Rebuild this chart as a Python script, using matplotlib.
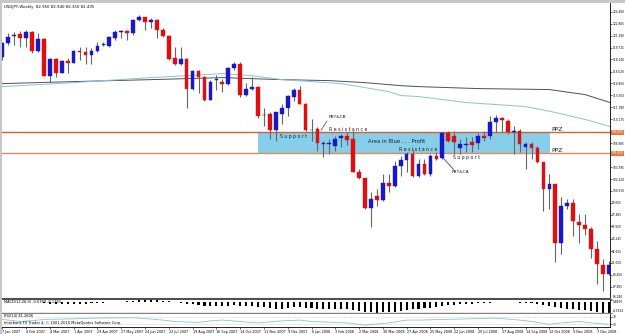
import numpy as np
import matplotlib.pyplot as plt
from matplotlib.patches import Rectangle

# weekly USDJPY candles, Jan 2007 - Dec 2008
opens = [118.50, 120.35, 121.28, 121.55, 121.02, 121.81, 119.29, 120.88, 115.98, 118.23,
         116.38, 117.97, 117.70, 119.29, 119.16, 118.76, 119.29, 120.02, 119.96, 121.02,
         121.81, 121.94, 121.68, 123.40, 123.80, 123.14, 123.40, 122.08, 121.28, 118.37,
         117.57, 118.23, 114.26, 116.64, 115.85, 112.80, 115.38, 115.19, 114.92, 117.04,
         117.57, 113.46, 114.26, 114.52, 110.68, 110.81, 108.69, 110.81, 111.74, 113.20,
         114.13, 112.27, 108.69, 108.83, 106.84, 106.84, 106.57, 107.63, 107.90, 107.50,
         103.13, 102.33, 98.36, 99.95, 99.42, 101.67, 101.27, 103.92, 104.72, 105.51,
         102.60, 104.19, 102.86, 105.25, 104.98, 108.30, 107.90, 106.31, 106.71, 107.10,
         106.97, 107.90, 107.90, 109.75, 110.28, 109.89, 108.43, 108.56, 106.44, 106.84,
         106.31, 104.45, 100.88, 101.54, 93.72, 98.62, 99.02, 96.50, 96.10, 95.58,
         92.93, 90.80, 89.61]
highs = [120.50, 121.68, 121.81, 121.94, 122.08, 121.90, 121.68, 121.00, 118.30, 118.37,
         118.00, 118.37, 119.40, 119.82, 119.82, 119.69, 120.49, 120.49, 121.28, 122.08,
         122.08, 122.08, 123.53, 124.06, 123.85, 123.67, 123.53, 122.34, 121.41, 119.82,
         119.82, 118.30, 116.70, 116.78, 115.90, 115.45, 116.10, 115.58, 117.10, 117.84,
         117.84, 115.05, 115.85, 114.65, 111.74, 111.08, 111.10, 112.14, 113.46, 114.39,
         114.65, 112.30, 110.15, 109.09, 107.27, 107.50, 107.90, 108.16, 108.43, 108.56,
         103.53, 102.40, 100.48, 100.88, 102.86, 102.86, 104.59, 105.25, 105.78, 106.18,
         104.85, 104.85, 105.60, 105.78, 108.40, 108.56, 108.56, 107.50, 107.77, 107.77,
         108.30, 108.56, 110.55, 110.68, 110.42, 110.15, 109.22, 108.83, 107.10, 107.10,
         106.57, 104.50, 102.86, 101.60, 99.82, 99.55, 99.55, 97.56, 97.56, 95.84,
         93.99, 91.60, 91.30]
lows = [118.10, 120.09, 120.09, 119.82, 119.82, 119.03, 119.16, 115.90, 115.19, 115.85,
        116.30, 116.38, 117.60, 118.10, 117.57, 117.57, 119.16, 119.96, 119.82, 120.75,
        121.02, 120.75, 121.41, 123.27, 122.08, 122.34, 121.02, 121.15, 118.10, 117.44,
        117.44, 111.74, 114.13, 113.73, 112.54, 112.70, 114.13, 113.86, 114.79, 116.78,
        113.20, 113.33, 114.13, 110.28, 109.22, 107.50, 107.27, 109.49, 110.55, 112.54,
        112.20, 108.60, 107.27, 105.91, 105.12, 105.51, 105.91, 106.44, 106.71, 103.10,
        102.20, 98.23, 95.84, 98.62, 99.29, 100.48, 101.14, 102.60, 103.13, 102.50,
        102.45, 102.70, 102.60, 104.70, 104.90, 107.10, 105.51, 105.51, 105.78, 105.78,
        106.18, 107.27, 107.50, 108.43, 108.43, 108.16, 105.51, 105.78, 103.53, 104.85,
        104.40, 97.96, 98.23, 91.20, 92.27, 98.23, 94.65, 93.72, 94.78, 91.73,
        88.29, 87.36, 89.50]
closes = [120.35, 121.15, 121.41, 121.02, 121.81, 119.29, 120.88, 115.98, 118.23, 116.38,
          117.97, 117.70, 119.29, 119.16, 118.76, 119.29, 119.96, 120.09, 121.15, 121.81,
          121.94, 121.68, 123.40, 123.80, 123.14, 123.40, 122.08, 121.28, 118.23, 117.57,
          118.23, 114.26, 116.64, 115.85, 112.80, 115.19, 115.45, 114.92, 117.04, 117.57,
          113.46, 114.26, 114.52, 110.55, 110.75, 108.69, 111.08, 111.74, 113.33, 114.13,
          112.27, 108.69, 108.76, 106.97, 106.90, 106.97, 107.50, 107.90, 107.37, 103.13,
          102.33, 98.36, 99.55, 99.42, 101.67, 101.27, 103.92, 104.72, 105.51, 102.60,
          104.19, 102.86, 105.25, 104.85, 108.30, 107.27, 107.10, 106.84, 106.78, 106.71,
          107.90, 107.63, 109.75, 110.28, 110.02, 108.43, 108.50, 106.84, 106.84, 106.31,
          104.45, 100.88, 101.54, 93.72, 98.62, 99.02, 96.63, 96.10, 95.58, 92.93,
          90.94, 89.61, 90.80]

# moving averages (bar index, price)
ma_slow_idx = [0, 12, 25, 37, 42, 47, 55, 61, 67, 70, 80, 92, 98, 102.2]
ma_slow = [114.92, 115.19, 115.45, 115.72, 115.58, 115.45, 115.32, 115.05, 114.65, 114.52,
           114.26, 114.13, 113.46, 112.40]
ma_fast_idx = [0, 12, 25, 37, 42, 47, 52, 57, 61, 65, 67, 70, 78, 88, 93, 98, 102.2]
ma_fast = [114.52, 115.05, 115.72, 116.25, 115.98, 115.45, 115.19, 114.92, 114.39, 113.86,
           113.33, 113.20, 112.40, 111.87, 111.08, 110.15, 109.22]

# MACD histogram, one value per bar
macd_hist = [0.2, 0.25, 0.3, 0.3, 0.3, 0.2, 0.05, -0.3, -0.5, -0.6,
             -0.7, -0.7, -0.6, -0.5, -0.5, -0.4, -0.3, -0.2, 0.0, 0.2,
             0.35, 0.45, 0.65, 0.8, 0.85, 0.85, 0.8, 0.7, 0.4, 0.1,
             -0.1, -0.6, -0.8, -1.1, -1.5, -1.6, -1.6, -1.6, -1.4, -1.2,
             -1.4, -1.4, -1.4, -1.7, -2.0, -2.4, -2.5, -2.5, -2.3, -2.0,
             -1.9, -2.1, -2.3, -2.5, -2.7, -2.8, -2.8, -2.8, -2.8, -3.1,
             -3.4, -3.8, -4.0, -4.1, -4.0, -4.0, -3.7, -3.4, -3.0, -2.8,
             -2.6, -2.4, -2.1, -1.9, -1.5, -1.2, -1.0, -0.8, -0.6, -0.5,
             -0.4, -0.3, -0.1, 0.1, 0.2, 0.2, 0.1, -0.1, -0.2, -0.3,
             -0.5, -1.0, -1.3, -2.0, -2.3, -2.5, -2.8, -3.0, -3.2, -3.5,
             -3.8, -4.1, -4.1]

# RSI line (bar index, value)
rsi_idx = [0, 1, 3, 5, 7, 11, 16, 22, 24, 27, 29, 33, 35, 37, 40, 43, 47, 50, 52, 56,
           58, 60, 61, 65, 68, 70, 74, 78, 83, 87, 89, 92, 94, 97, 99, 102]
rsi_vals = [55.5, 52.3, 44.5, 49.0, 55.5, 58.3, 63.0, 64.8, 60.2, 52.3, 44.5, 39.8, 47.7,
            52.3, 44.5, 37.1, 47.7, 52.3, 44.5, 39.8, 37.1, 29.2, 24.6, 37.1, 52.3, 52.3,
            55.5, 58.3, 62.9, 52.3, 44.5, 29.2, 37.1, 44.5, 37.1, 29.2]

price_ticks = [124.460, 122.865, 121.290, 119.715, 118.140, 116.520, 114.960, 113.350,
               111.780, 110.175, 106.985, 103.795, 102.220, 100.630,
               99.055, 97.465, 95.920, 94.245, 92.625, 91.050, 89.450, 87.855, 86.280]
date_labels = ['7 Jan 2007', '4 Feb 2007', '4 Mar 2007', '1 Apr 2007', '29 Apr 2007',
               '27 May 2007', '24 Jun 2007', '22 Jul 2007', '19 Aug 2007', '16 Sep 2007',
               '14 Oct 2007', '11 Nov 2007', '9 Dec 2007', '6 Jan 2008', '3 Feb 2008',
               '2 Mar 2008', '30 Mar 2008', '27 Apr 2008', '25 May 2008', '22 Jun 2008',
               '20 Jul 2008', '17 Aug 2008', '14 Sep 2008', '12 Oct 2008', '9 Nov 2008',
               '7 Dec 2008']

ppz_upper = 108.45
ppz_lower = 105.65

fig = plt.figure(figsize=(6.25, 3.34), dpi=100)
ax = fig.add_axes([0.0032, 0.1048, 0.9728, 0.8862])
ax_macd = fig.add_axes([0.0032, 0.0629, 0.9728, 0.0389])
ax_rsi = fig.add_axes([0.0032, 0.021, 0.9728, 0.0389])

# gray frame on the left and top
fig.add_artist(Rectangle((0, 0), 2 / 625, 1, transform=fig.transFigure, color='#c8c8c8', lw=0))
fig.add_artist(Rectangle((0, 1 - 3 / 334), 1, 3 / 334, transform=fig.transFigure, color='#c8c8c8', lw=0))

x = np.arange(len(opens))
o = np.array(opens)
c = np.array(closes)
up = c >= o
colors = np.where(up, '#1818c8', '#dc1010')

# PPZ box and lines
ax.add_patch(Rectangle((43.0, ppz_lower), 49.1, ppz_upper - ppz_lower, color='#87ceeb', lw=0, zorder=0))
ax.axhline(ppz_upper, color='#c8643c', lw=1.0, zorder=1)
ax.axhline(ppz_lower, color='#dc8c64', lw=1.0, zorder=1)

# moving averages
ax.plot(ma_slow_idx, ma_slow, color='#505050', lw=0.7, zorder=1)
ax.plot(ma_fast_idx, ma_fast, color='#8cc0e0', lw=0.7, zorder=1)

# candles
ax.vlines(x, lows, highs, color='#666666', lw=0.8, zorder=2)
ax.bar(x, np.maximum(np.abs(c - o), 0.12), bottom=np.minimum(o, c), width=0.62,
       color=colors, edgecolor=colors, lw=0.3, zorder=3)

# annotations
ax.text(54.8, 110.42, 'PBT&CB', fontsize=3.2, va='center', color='#202020')
ax.plot([54.6, 53.6], [109.95, 108.7], color='#a02020', lw=0.5)
ax.text(55.0, 108.83, 'R e s i s t a n c e', fontsize=3.3, va='center', color='#202020')
ax.text(46.7, 107.9, 'S u p p o r t', fontsize=3.3, va='center', color='#202020')
ax.text(61.5, 107.24, 'Area in Blue . . . Profit', fontsize=3.8, va='center', color='#202020')
ax.text(66.7, 106.18, 'R e s i s t a n c e', fontsize=3.3, va='center', color='#202020')
ax.text(75.8, 105.12, 'S u p p o r t', fontsize=3.3, va='center', color='#202020')
ax.text(75.6, 103.13, 'PBT&CA', fontsize=3.2, va='center', color='#202020')
ax.plot([74.2, 75.9], [104.95, 103.5], color='#202080', lw=0.5)
ax.text(92.3, 108.83, 'PPZ', fontsize=4.5, va='center', color='#202020')
ax.text(92.3, 106.05, 'PPZ', fontsize=4.5, va='center', color='#202020')
ax.text(0.3, 125.1, 'USDJPY,Weekly  82.950 82.940 82.350 82.435', fontsize=2.8, va='center')

ax.set_xlim(-0.05, 102.2)
ax.set_ylim(86.25, 125.65)
ax.set_xticks([])
ax.yaxis.tick_right()
ax.set_yticks(price_ticks)
ax.set_yticklabels([f'{v:.3f}' for v in price_ticks], fontsize=2.1)
ax.tick_params(axis='y', length=1.2, width=0.4, pad=0.5)
ax.get_yticklabels()[-1].set_va('bottom')
for side in ['left', 'top']:
    ax.spines[side].set_visible(False)
ax.spines['right'].set_linewidth(0.6)
ax.spines['bottom'].set_linewidth(1.5)
ax.spines['bottom'].set_color('#505050')

# orange price labels for the PPZ lines
for level in [ppz_upper, ppz_lower]:
    ax.text(1.002, level, f'{level:.3f}', transform=ax.get_yaxis_transform(), fontsize=2.1,
            color='white', va='center', ha='left',
            bbox=dict(boxstyle='square,pad=0.2', fc='#e87840', ec='none'))

# MACD panel
ax_macd.bar(x, macd_hist, width=0.35, color='black')
ax_macd.set_xlim(-0.05, 102.2)
ax_macd.set_ylim(-4.3, 1.0)
ax_macd.set_xticks([])
ax_macd.yaxis.tick_right()
ax_macd.set_yticks([0.887, -4.1934])
ax_macd.set_yticklabels(['0.8870', '-4.1934'], fontsize=2.1)
ax_macd.tick_params(axis='y', length=1.2, width=0.4, pad=0.5)
ax_macd.get_yticklabels()[0].set_va('top')
ax_macd.get_yticklabels()[1].set_va('bottom')
ax_macd.text(0.3, 0.3, 'MACD(12,26,9) -0.6768 -0.1283', fontsize=2.6, va='center')
for side in ['left', 'top']:
    ax_macd.spines[side].set_visible(False)
ax_macd.spines['right'].set_linewidth(0.6)
ax_macd.spines['bottom'].set_linewidth(1.0)
ax_macd.spines['bottom'].set_color('#808080')

# RSI panel
ax_rsi.plot(rsi_idx, rsi_vals, color='#8cc0e0', lw=0.6)
ax_rsi.axhline(70, color='#a0a0a0', lw=0.4, ls=':')
ax_rsi.axhline(30, color='#a0a0a0', lw=0.4, ls=':')
ax_rsi.set_xlim(-0.05, 102.2)
ax_rsi.set_ylim(15, 85)
ax_rsi.yaxis.tick_right()
ax_rsi.set_yticks([70, 30])
ax_rsi.set_yticklabels(['70', '30'], fontsize=2.1)
ax_rsi.tick_params(axis='y', length=1.2, width=0.4, pad=0.5)
ax_rsi.text(0.3, 72, 'RSI(14) 41.2606', fontsize=2.6, va='center')
ax_rsi.text(0.3, 36, 'Interbank FX Trader 4, \u00a9 2001-2010 MetaQuotes Software Corp.', fontsize=2.6, va='center')
ax_rsi.set_xticks(np.arange(0, 101, 4))
ax_rsi.set_xticklabels(date_labels, fontsize=2.4, ha='left')
ax_rsi.tick_params(axis='x', length=1.5, width=0.4, pad=0.5)
for side in ['left', 'top']:
    ax_rsi.spines[side].set_visible(False)
ax_rsi.spines['right'].set_linewidth(0.6)
ax_rsi.spines['bottom'].set_linewidth(0.6)

fig.savefig('out.png', dpi=100)
